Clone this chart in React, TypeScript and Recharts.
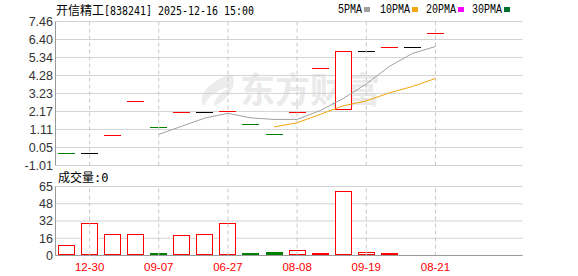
import React from "react";
import {
  ComposedChart,
  Bar,
  Line,
  XAxis,
  YAxis,
  CartesianGrid,
  ReferenceLine,
} from "recharts";

// 17 candles, values
const candleIdx = [0, 1, 2, 3, 4, 5, 6, 7, 8, 9, 10, 11, 12, 13, 14, 15, 16];
const opens = [-0.32, -0.32, 0.74, 2.75, 1.23, 2.09, 2.09, 2.15, 1.38, 0.79, 2.09, 4.68, 2.28, 5.7, 5.91, 5.91, 6.74];
const closes = [-0.32, -0.32, 0.74, 2.75, 1.23, 2.09, 2.09, 2.15, 1.38, 0.79, 2.09, 4.68, 5.7, 5.7, 5.91, 5.91, 6.74];
const trend = ["down", "flat", "up", "up", "down", "up", "flat", "up", "down", "down", "up", "up", "up", "flat", "up", "flat", "up"];
const volumes = [9.1, 29.9, 19.5, 19.5, 1.2, 18.6, 19.5, 29.9, 2.2, 3.0, 4.4, 0.9, 60.0, 2.5, 0.9, 0, 0];
const volTrend = ["up", "up", "up", "up", "down", "up", "up", "up", "down", "down", "up", "up", "up", "up", "up", "up", "up"];
const ma5 = [null, null, null, null, 0.82, 1.3, 1.78, 2.06, 1.79, 1.7, 1.7, 2.22, 2.93, 3.79, 4.82, 5.58, 5.99];
const ma10 = [null, null, null, null, null, null, null, null, null, 1.26, 1.5, 2.0, 2.5, 2.79, 3.26, 3.64, 4.11];

const tickIdx = [1, 4, 7, 10, 13, 16];
const tickDates = ["12-30", "09-07", "06-27", "08-08", "09-19", "08-21"];
const priceTicks = ["-1.01", "0.05", "1.11", "2.17", "3.23", "4.28", "5.34", "6.40", "7.46"];
const volTicks = [0, 16.25, 32.5, 48.75, 65];

const RED = "#ff0000";
const GREEN = "#008000";
const BORDER = "#999999";
const GRID = "#d3d3d3";
const SANS = "'Liberation Sans', Arial, sans-serif";
const CJK = "'Noto Sans CJK SC', sans-serif";

const data = candleIdx.map((i) => ({
  i,
  open: opens[i],
  close: closes[i],
  trend: trend[i],
  vol: volumes[i],
  volTrend: volTrend[i],
  ma5: ma5[i],
  ma10: ma10[i],
}));

const xPadding = { left: -0.5, right: 75.5 };

const CandleShape = (props: any) => {
  const { x, y, width, height, payload } = props;
  const color = payload.trend === "up" ? RED : payload.trend === "down" ? GREEN : "#000";
  const left = Math.round(x);
  const w = Math.round(width);
  if (Math.abs(height) < 1) {
    const yy = Math.floor(y) + 0.5;
    return <line x1={left} x2={left + w} y1={yy} y2={yy} stroke={color} strokeWidth={1} />;
  }
  const top = Math.floor(y) + 0.5;
  const bottom = Math.floor(y + height) + 0.5;
  if (payload.close > payload.open) {
    return <rect x={left + 0.5} y={top} width={w - 1} height={bottom - top} fill="#fff" stroke={RED} />;
  }
  return <rect x={left} y={top - 0.5} width={w} height={bottom - top + 1} fill={GREEN} />;
};

const VolumeShape = (props: any) => {
  const { x, y, width, height, payload } = props;
  if (!payload.vol) return null;
  const left = Math.round(x);
  const w = Math.round(width);
  const bottom = Math.floor(y + height) - 0.5;
  const top = Math.min(Math.floor(y) + 0.5, bottom - 1);
  if (payload.volTrend === "down") {
    return <rect x={left} y={top - 0.5} width={w} height={bottom - top + 1} fill={GREEN} />;
  }
  return <rect x={left + 0.5} y={top} width={w - 1} height={bottom - top} fill="#fff" stroke={RED} />;
};

const legendItems = [
  { label: "5PMA", color: "#a0a0a0", x: 338 },
  { label: "10PMA", color: "#f2a50c", x: 380 },
  { label: "20PMA", color: "#ff00ff", x: 426 },
  { label: "30PMA", color: "#006f30", x: 472 },
];

export default function App() {
  return (
    <div style={{ position: "absolute", left: 0, top: 0, width: 578, height: 276, background: "#fff", overflow: "hidden" }}>
      {/* watermark */}
      <svg width={578} height={276} style={{ position: "absolute", left: 0, top: 0 }}>
        <path
          d="M232 74 C210 80 196 96 204 106 C208 96 218 89 232 86 C221 92 213 100 214 106 C228 100 238 86 232 74 Z"
          fill="#ececec"
        />
        <text x={240} y={103} fontFamily={CJK} fontWeight={700} fontSize={35} fill="#eaeaea">
          东方财富
        </text>
      </svg>

      <div style={{ position: "absolute", left: 0, top: 0 }}>
        <ComposedChart width={578} height={178} data={data} margin={{ top: 21.5, right: 55.5, bottom: 12.5, left: 0 }}>
          <CartesianGrid horizontal vertical={false} stroke={GRID} />
          <XAxis dataKey="i" type="category" ticks={tickIdx} padding={xPadding} height={0} tick={false} tickLine={false} axisLine={{ stroke: BORDER }} />
          <XAxis xAxisId="top" dataKey="i" type="category" orientation="top" padding={xPadding} height={0} tick={false} tickLine={false} axisLine={{ stroke: BORDER }} />
          <YAxis
            width={55.5}
            domain={[-1.01, 7.46]}
            allowDataOverflow
            ticks={priceTicks.map(Number)}
            tickFormatter={(v: number) => v.toFixed(2)}
            interval={0}
            tickLine={false}
            tickSize={0}
            tickMargin={2.5}
            axisLine={{ stroke: BORDER }}
            tick={{ fill: "#333", fontSize: 12.5, fontFamily: SANS }}
          />
          <YAxis yAxisId="r" orientation="right" width={0} domain={[-1.01, 7.46]} tick={false} tickLine={false} axisLine={{ stroke: BORDER }} />
          {tickIdx.map((t) => (
            <ReferenceLine key={t} x={t} stroke="#c8c8c8" strokeDasharray="4 3" />
          ))}
          <Bar
            dataKey={(d: any) => [Math.min(d.open, d.close), Math.max(d.open, d.close)]}
            barSize={17}
            shape={CandleShape}
            isAnimationActive={false}
          />
          <Line type="linear" dataKey="ma5" stroke="#a0a0a0" strokeWidth={1} dot={false} isAnimationActive={false} />
          <Line type="linear" dataKey="ma10" stroke="#f2a50c" strokeWidth={1} dot={false} isAnimationActive={false} />
        </ComposedChart>
      </div>

      <div style={{ position: "absolute", left: 0, top: 170 }}>
        <ComposedChart width={578} height={106} data={data} margin={{ top: 16.5, right: 55.5, bottom: 0, left: 0 }}>
          <CartesianGrid horizontal vertical={false} stroke={GRID} />
          <XAxis
            dataKey="i"
            type="category"
            ticks={tickIdx}
            interval={0}
            padding={xPadding}
            height={20.5}
            tickFormatter={(v: number) => tickDates[tickIdx.indexOf(v)] ?? ""}
            tickLine={false}
            tickSize={0}
            tickMargin={7}
            axisLine={{ stroke: BORDER }}
            tick={{ fill: RED, fontSize: 11.5, fontFamily: SANS }}
          />
          <XAxis xAxisId="top" dataKey="i" type="category" orientation="top" padding={xPadding} height={0} tick={false} tickLine={false} axisLine={{ stroke: BORDER }} />
          <YAxis
            width={55.5}
            domain={[0, 65]}
            allowDataOverflow
            ticks={volTicks}
            tickFormatter={(v: number) => String(Math.floor(v))}
            interval={0}
            tickLine={false}
            tickSize={0}
            tickMargin={2.5}
            axisLine={{ stroke: BORDER }}
            tick={{ fill: "#333", fontSize: 12.5, fontFamily: SANS }}
          />
          <YAxis yAxisId="r" orientation="right" width={0} domain={[0, 65]} tick={false} tickLine={false} axisLine={{ stroke: BORDER }} />
          {tickIdx.map((t) => (
            <ReferenceLine key={t} x={t} stroke="#c8c8c8" strokeDasharray="4 3" />
          ))}
          <Bar dataKey="vol" barSize={17} shape={VolumeShape} isAnimationActive={false} />
        </ComposedChart>
      </div>

      {/* title, legend, volume label */}
      <svg width={578} height={276} style={{ position: "absolute", left: 0, top: 0, pointerEvents: "none" }}>
        <text x={56} y={15} fontSize={12} fill="#000">
          <tspan fontFamily={CJK}>开信精工</tspan>
          <tspan fontFamily="'DejaVu Sans Mono', monospace" textLength={150} lengthAdjust="spacingAndGlyphs">
            [838241] 2025-12-16 15:00
          </tspan>
        </text>
        {legendItems.map((it) => (
          <g key={it.label}>
            <text
              x={it.x}
              y={13}
              fontSize={12}
              fontFamily="'Liberation Mono', monospace"
              fill="#000"
              textLength={it.label.length * 6}
              lengthAdjust="spacingAndGlyphs"
            >
              {it.label}
            </text>
            <rect x={it.x + it.label.length * 6 + 2} y={7} width={6} height={5} fill={it.color} />
          </g>
        ))}
        <text x={58} y={182} fontSize={12} fill="#000">
          <tspan fontFamily={CJK}>成交量</tspan>
          <tspan fontFamily="'DejaVu Sans Mono', monospace">:0</tspan>
        </text>
      </svg>
    </div>
  );
}
